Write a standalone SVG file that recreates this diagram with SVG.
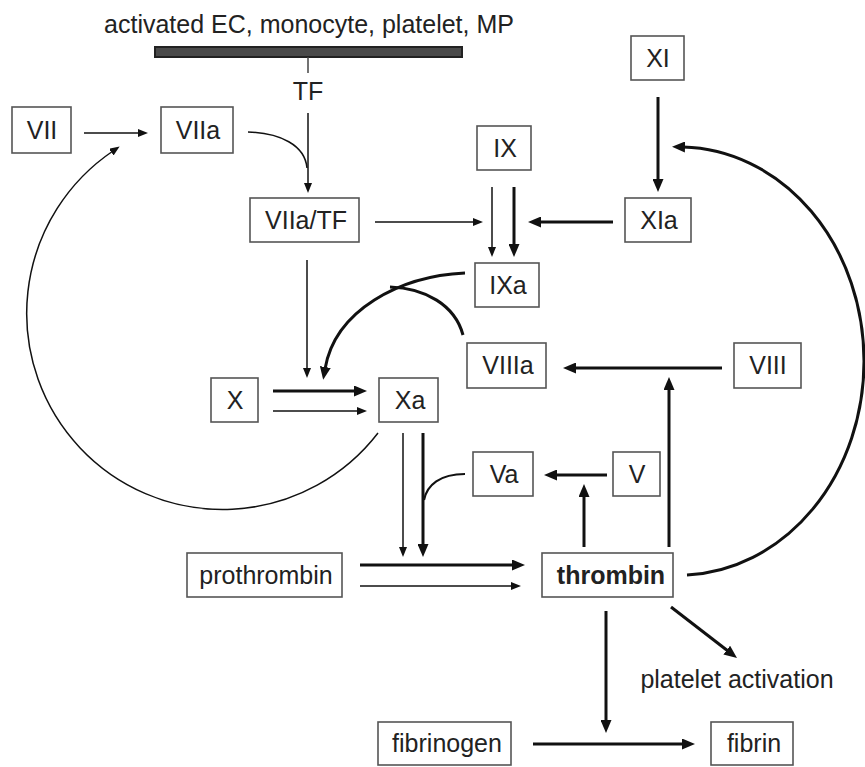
<svg xmlns="http://www.w3.org/2000/svg" width="865" height="767" viewBox="0 0 865 767">
<style>
  .box rect { fill: #fff; stroke: #555; stroke-width: 1.6; }
  .box text, .lbl { font-family: "Liberation Sans", Arial, sans-serif; font-size: 25px; fill: #222; text-anchor: middle; }
  .bold { font-weight: bold; }
  .thin { fill: none; stroke: #111; stroke-width: 1.5; }
  .thick { fill: none; stroke: #111; stroke-width: 3; }
  .mid { fill: none; stroke: #111; stroke-width: 2.2; }
</style>
<defs>
  <marker id="aThin" markerUnits="userSpaceOnUse" viewBox="0 0 10 8" markerWidth="10" markerHeight="8" refX="2" refY="4" orient="auto">
    <path d="M0,0 L10,4 L0,8 z" fill="#111"/>
  </marker>
  <marker id="aThick" markerUnits="userSpaceOnUse" viewBox="0 0 13 11" markerWidth="13" markerHeight="11" refX="2" refY="5.5" orient="auto">
    <path d="M0,0 L13,5.5 L0,11 z" fill="#111"/>
  </marker>
</defs>
<rect width="865" height="767" fill="#fff"/>

<g id="membrane">
  <text class="lbl" x="309" y="33">activated EC, monocyte, platelet, MP</text>
  <rect x="155" y="47" width="307" height="10" fill="#4a4a4a" stroke="#222" stroke-width="2"/>
  <line x1="308" y1="57" x2="308" y2="73" stroke="#444" stroke-width="1.5"/>
  <text class="lbl" x="308" y="100">TF</text>
</g>

<g id="connectors">
  <path class="thin" d="M84 133 L140 133" marker-end="url(#aThin)"/>
  <path class="thin" d="M248 132 C280 133 305 145 307 168"/>
  <path class="thin" d="M308 113 L308 185" marker-end="url(#aThin)"/>
  <path class="thin" d="M375 222 L475 222" marker-end="url(#aThin)"/>
  <path class="thin" d="M492 187 L492 249" marker-end="url(#aThin)"/>
  <path class="thin" d="M307 260 L307 370" marker-end="url(#aThin)"/>
  <path class="thin" d="M273 411 L359 411" marker-end="url(#aThin)"/>
  <path class="thin" d="M403 433 L403 549" marker-end="url(#aThin)"/>
  <path class="thin" d="M360 586 L513 586" marker-end="url(#aThin)"/>
  <path class="thin" d="M378 433 A196 196 0 1 1 113 151" marker-end="url(#aThin)"/>

  <path class="thick" d="M658 97 L658 181" marker-end="url(#aThick)"/>
  <path class="thick" d="M613 222 L539 222" marker-end="url(#aThick)"/>
  <path class="thick" d="M514 187 L514 246" marker-end="url(#aThick)"/>
  <path class="thick" d="M465 273 C400 276 335 310 325 369" marker-end="url(#aThick)"/>
  <path class="thick" d="M463 335 C455 305 425 288 390 287"/>
  <path class="thick" d="M722 368 L574 368" marker-end="url(#aThick)"/>
  <path class="thick" d="M669 547 L669 388" marker-end="url(#aThick)"/>
  <path class="thick" d="M273 391 L356 391" marker-end="url(#aThick)"/>
  <path class="thick" d="M423 433 L423 546" marker-end="url(#aThick)"/>
  <path class="mid" d="M465 474 C440 474 427 485 424 500"/>
  <path class="thick" d="M360 565 L514 565" marker-end="url(#aThick)"/>
  <path class="thick" d="M607 475 L555 475" marker-end="url(#aThick)"/>
  <path class="thick" d="M584 547 L584 495" marker-end="url(#aThick)"/>
  <path class="thick" d="M687 575 A185 214 0 0 0 864 361 A185 214 0 0 0 683 147" marker-end="url(#aThick)"/>
  <path class="thick" d="M606 611 L606 722" marker-end="url(#aThick)"/>
  <path class="thick" d="M671 607 L728.3 651.3" marker-end="url(#aThick)"/>
  <path class="thick" d="M533 744 L684 744" marker-end="url(#aThick)"/>
</g>

<g id="VII" class="box"><rect x="12" y="107" width="59" height="46"/><text x="42" y="139">VII</text></g>
<g id="VIIa" class="box"><rect x="161" y="107" width="72" height="46"/><text x="198" y="139">VIIa</text></g>
<g id="VIIaTF" class="box"><rect x="250" y="198" width="109" height="44"/><text x="306" y="229">VIIa/TF</text></g>
<g id="XI" class="box"><rect x="631" y="36" width="53" height="44"/><text x="658" y="67">XI</text></g>
<g id="IX" class="box"><rect x="477" y="126" width="54" height="44"/><text x="505" y="157">IX</text></g>
<g id="XIa" class="box"><rect x="625" y="198" width="66" height="44"/><text x="659" y="229">XIa</text></g>
<g id="IXa" class="box"><rect x="475" y="263" width="64" height="44"/><text x="508" y="294">IXa</text></g>
<g id="VIIIa" class="box"><rect x="467" y="343" width="79" height="45"/><text x="508" y="374">VIIIa</text></g>
<g id="VIII" class="box"><rect x="734" y="343" width="67" height="45"/><text x="768" y="374">VIII</text></g>
<g id="X" class="box"><rect x="211" y="378" width="47" height="44"/><text x="235" y="409">X</text></g>
<g id="Xa" class="box"><rect x="379" y="378" width="59" height="44"/><text x="410" y="409">Xa</text></g>
<g id="Va" class="box"><rect x="473" y="452" width="60" height="44"/><text x="504" y="483">Va</text></g>
<g id="V" class="box"><rect x="613" y="452" width="47" height="44"/><text x="637" y="483">V</text></g>
<g id="prothrombin" class="box"><rect x="187" y="553" width="155" height="44"/><text x="266" y="584">prothrombin</text></g>
<g id="thrombin" class="box"><rect x="542" y="553" width="131" height="44"/><text class="bold" x="611" y="584">thrombin</text></g>
<g id="fibrinogen" class="box"><rect x="378" y="722" width="133" height="43"/><text x="447" y="752">fibrinogen</text></g>
<g id="fibrin" class="box"><rect x="711" y="722" width="82" height="43"/><text x="754" y="752">fibrin</text></g>
<g id="platelet"><text class="lbl" x="737" y="688">platelet activation</text></g>
</svg>
